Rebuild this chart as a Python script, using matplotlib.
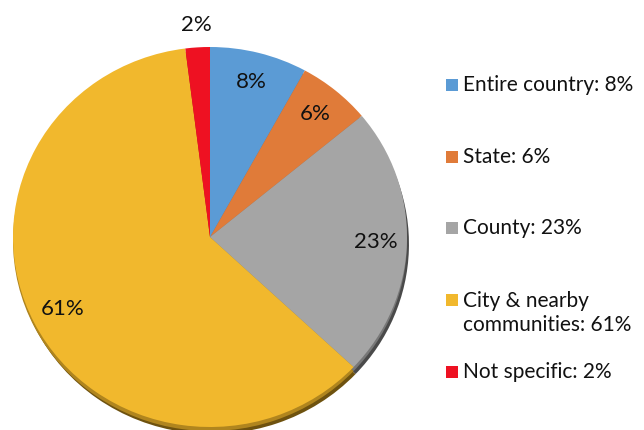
import matplotlib
matplotlib.use("Agg")
import matplotlib.pyplot as plt
from matplotlib.patches import Rectangle

categories = ["Entire country", "State", "County", "City & nearby\ncommunities", "Not specific"]
values = [8, 6, 23, 61, 2]
colors = ["#5B9BD5", "#E07B39", "#A5A5A5", "#F1B82D", "#EE1122"]
rim_colors = ["#2f5580", "#7a3d14", "#4a4a4a", "#6e520f", "#7a0a12"]

W, H = 644, 430
cx, cy = 210, 237
rx, ry = 197, 190

plt.rcParams["font.family"] = ["Lato", "DejaVu Sans"]
fig = plt.figure(figsize=(W / 100, H / 100), dpi=100)
fig.patch.set_facecolor("white")

ax = fig.add_axes([0, 0, 1, 1])

# 3D rim (shadow) underneath
for k, dy in enumerate([7, 4]):
    cols = rim_colors if k == 0 else [
        matplotlib.colors.to_hex([(a + b) / 2 for a, b in zip(matplotlib.colors.to_rgb(c1), matplotlib.colors.to_rgb(c2))])
        for c1, c2 in zip(rim_colors, colors)]
    ax.pie(values, colors=cols, startangle=90, counterclock=False,
           center=(0.01 * (1 - k), -dy / ry), radius=1.0, frame=True,
           wedgeprops=dict(linewidth=0))

wedges, texts, autotexts = ax.pie(
    values, colors=colors, startangle=90, counterclock=False,
    center=(0, 0), radius=1.0, frame=True,
    autopct=lambda p: f"{p:.0f}%", pctdistance=0.84,
    wedgeprops=dict(linewidth=0),
    textprops=dict(fontsize=16, color="#111111"))
# data unit 1 == rx px horizontally, ry px vertically
ax.set_aspect("auto")
ax.set_xlim(-cx / rx, (W - cx) / rx)
ax.set_ylim((cy - H) / ry, cy / ry)
ax.axis("off")

# move the small "Not specific" label outside
x, y = autotexts[-1].get_position()
autotexts[-1].set_position((x * 1.12 / 0.84, y * 1.12 / 0.84))

# legend drawn in pixel coordinates
lax = fig.add_axes([0, 0, 1, 1], facecolor="none")
lax.set_xlim(0, W)
lax.set_ylim(H, 0)
lax.axis("off")
row_y = [85, 157, 228, 313, 372]
for cat, val, col, yy in zip(categories, values, colors, row_y):
    nlines = cat.count("\n") + 1
    top_y = yy - (nlines - 1) * 13.5
    lax.add_patch(Rectangle((446, top_y - 6), 12, 12, facecolor=col, edgecolor="none"))
    lax.text(463, yy, f"{cat}: {val}%", fontsize=15, color="#111111",
             va="center", ha="left", linespacing=1.25)

fig.savefig("out.png", dpi=100, facecolor="white")
